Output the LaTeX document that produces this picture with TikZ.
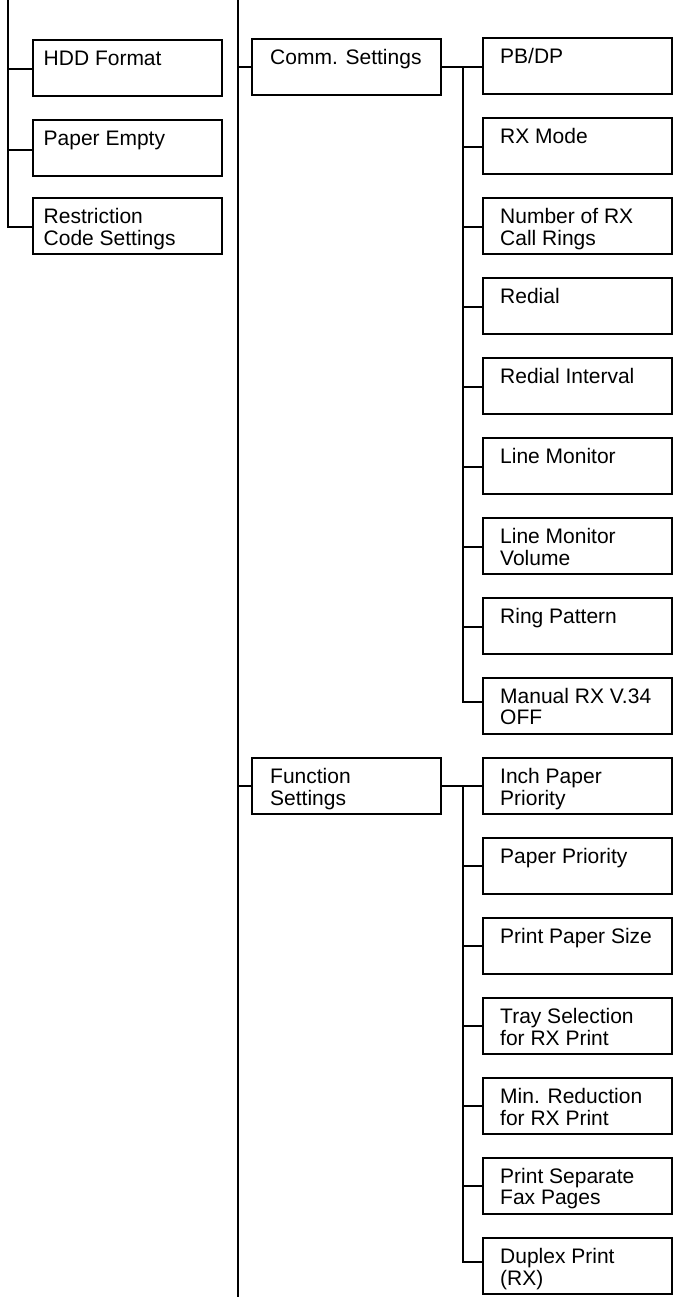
\documentclass[tikz,border=0pt]{standalone}
\usepackage{fontspec}
\setmainfont{Liberation Sans}
\usetikzlibrary{calc}
\tikzset{
  box/.style={draw=black, line width=2bp, rectangle, inner sep=0pt, anchor=north west,
              minimum width=189bp, minimum height=56bp},
  lbl/.style={anchor=base west, inner sep=0pt, font=\fontsize{21bp}{21bp}\selectfont},
  conn/.style={draw=black, line width=2bp}
}
\newcommand{\treebox}[5]{%
  \node[box] (#1) at (#2,#3) {};
  \node[lbl] (#1t) at ([xshift=#5bp,yshift=-26.5bp]#1.north west)
    {\begin{tabular}[t]{@{}l@{}}#4\end{tabular}};}
\begin{document}
\begin{tikzpicture}[x=1bp,y=-1bp]
\useasboundingbox (0,0) rectangle (673,1300);
% left column
\treebox{hdd}{31.5}{39.5}{HDD Format}{12}
\treebox{pempty}{31.5}{119}{Paper Empty}{12}
\treebox{rcode}{31.5}{197}{Restriction\\Code Settings}{12}
\coordinate (L0) at (8,0);
\coordinate (hddc) at ([yshift=-30bp]hdd.north west);
\coordinate (pemptyc) at ([yshift=-31bp]pempty.north west);
\coordinate (rcodec) at ([yshift=-30bp]rcode.north west);
\draw[conn] (L0) |- (rcodec);
\draw[conn] (L0 |- hddc) -- (hddc);
\draw[conn] (L0 |- pemptyc) -- (pemptyc);
% middle column
\treebox{comm}{251}{38}{Comm. Settings}{19}
\treebox{func}{251}{757}{Function\\Settings}{19}
\coordinate (M0) at (238,0);
\coordinate (M1) at (238,1297);
\draw[conn] (M0) -- (M1);
\coordinate (commc) at ([yshift=-29bp]comm.north west);
\coordinate (funcc) at ([yshift=-29bp]func.north west);
\draw[conn] (M0 |- commc) -- (commc);
\draw[conn] (M0 |- funcc) -- (funcc);
\coordinate (commr) at ([yshift=-29bp]comm.north east);
\coordinate (funcr) at ([yshift=-29bp]func.north east);
% right column: comm settings
\treebox{pbdp}{482}{37}{PB/DP}{18}
\treebox{rxmode}{482}{117}{RX Mode}{18}
\treebox{rings}{482}{197}{Number of RX\\Call Rings}{18}
\treebox{redial}{482}{277}{Redial}{18}
\treebox{redint}{482}{357}{Redial Interval}{18}
\treebox{linemon}{482}{437}{Line Monitor}{18}
\treebox{linevol}{482}{517}{Line Monitor\\Volume}{18}
\treebox{ringpat}{482}{597}{Ring Pattern}{18}
\treebox{manual}{482}{677}{Manual RX V.34\\OFF}{18}
% right column: function settings
\treebox{inch}{482}{757}{Inch Paper\\Priority}{18}
\treebox{ppri}{482}{837}{Paper Priority}{18}
\treebox{psize}{482}{917}{Print Paper Size}{18}
\treebox{tray}{482}{997}{Tray Selection\\for RX Print}{18}
\treebox{minred}{482}{1077}{Min. Reduction\\for RX Print}{18}
\treebox{sep}{482}{1157}{Print Separate\\Fax Pages}{18}
\treebox{duplex}{482}{1237}{Duplex Print\\(RX)}{18}
% comm settings connectors
\coordinate (CS) at (463,0);
\foreach \n in {pbdp,rxmode,rings,redial,redint,linemon,linevol,ringpat}{
  \coordinate (\n c) at ([yshift=-30bp]\n.north west);
}
\coordinate (manualc) at ([yshift=-25bp]manual.north west);
\draw[conn] (commr) -- (pbdpc);
\draw[conn] (CS |- pbdpc) |- (manualc);
\foreach \n in {rxmode,rings,redial,redint,linemon,linevol,ringpat}{
  \draw[conn] (CS |- \n c) -- (\n c);
}
% function settings connectors
\foreach \n in {inch,ppri,psize,tray,minred,sep}{
  \coordinate (\n c) at ([yshift=-29bp]\n.north west);
}
\coordinate (duplexc) at ([yshift=-25bp]duplex.north west);
\draw[conn] (funcr) -- (inchc);
\draw[conn] (CS |- inchc) |- (duplexc);
\foreach \n in {ppri,psize,tray,minred,sep}{
  \draw[conn] (CS |- \n c) -- (\n c);
}
\end{tikzpicture}
\end{document}
